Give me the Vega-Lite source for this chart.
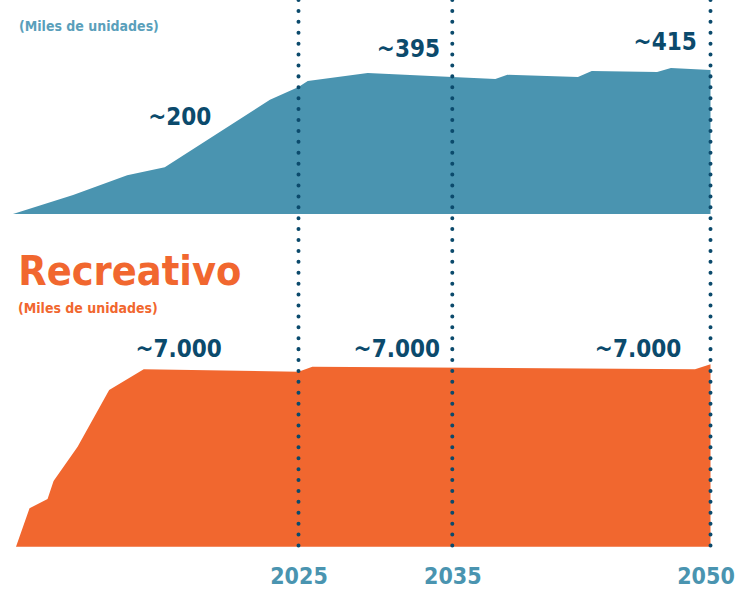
{
  "$schema": "https://vega.github.io/schema/vega-lite/v6.json",
  "width": 737,
  "height": 556,
  "autosize": "none",
  "padding": {"left": 0, "top": 0, "right": 0, "bottom": 33},
  "background": "white",
  "config": {"view": {"stroke": null}, "font": "DejaVu Sans Condensed, sans-serif"},
  "datasets": {
    "top": [
      {"year": 2006, "v": 0}, {"year": 2010, "v": 55}, {"year": 2013.6, "v": 112},
      {"year": 2016.1, "v": 135}, {"year": 2023.1, "v": 329}, {"year": 2025, "v": 366},
      {"year": 2025.6, "v": 383}, {"year": 2029.5, "v": 406}, {"year": 2035, "v": 395},
      {"year": 2037.5, "v": 389}, {"year": 2038.2, "v": 401}, {"year": 2042.3, "v": 395},
      {"year": 2043.1, "v": 412}, {"year": 2046.9, "v": 409}, {"year": 2047.7, "v": 421},
      {"year": 2050, "v": 415}
    ],
    "bottom": [
      {"year": 2006.2, "v": 0}, {"year": 2007.1, "v": 1512}, {"year": 2008.3, "v": 1879},
      {"year": 2008.7, "v": 2588}, {"year": 2010.3, "v": 3939}, {"year": 2012.4, "v": 6172},
      {"year": 2014.7, "v": 6987}, {"year": 2025, "v": 6893}, {"year": 2025.9, "v": 7090},
      {"year": 2049.1, "v": 6987}, {"year": 2050, "v": 7184}
    ],
    "topLabels": [
      {"year": 2019.2, "v": 200, "label": "~200"},
      {"year": 2034.2, "v": 395, "label": "~395"},
      {"year": 2049.2, "v": 415, "label": "~415"}
    ],
    "bottomLabels": [
      {"year": 2019.9, "v": 7000, "label": "~7.000"},
      {"year": 2034.2, "v": 7000, "label": "~7.000"},
      {"year": 2048.3, "v": 7000, "label": "~7.000"}
    ],
    "marks": [{"year": 2025}, {"year": 2035}, {"year": 2050}],
    "one": [{}]
  },
  "resolve": {"scale": {"y": "independent"}},
  "layer": [
    {
      "data": {"name": "top"},
      "mark": {"type": "area", "color": "#4a94b0", "interpolate": "linear"},
      "encoding": {
        "x": {"field": "year", "type": "quantitative", "scale": {"domain": [2006, 2025, 2035, 2050], "range": [13, 298.5, 452.3, 710.5], "nice": false, "zero": false}, "axis": {"values": [2025, 2035, 2050], "title": null, "labelFont": "DejaVu Sans Condensed, sans-serif", "labelFontSize": 23, "labelFontWeight": "bold", "labelColor": "#4a94b0", "domain": false, "ticks": false, "tickSize": 0, "grid": false, "labelPadding": 9, "labelFlush": false, "labelOverlap": false, "format": "d", "labelOffset": {"condition": {"test": "datum.value == 2050", "value": -5}, "value": 0}}},
        "y": {"field": "v", "type": "quantitative", "scale": {"domain": [-985.6, 616.7], "nice": false, "zero": false}, "axis": null},
        "y2": {"datum": 0}
      }
    },
    {
      "data": {"name": "bottom"},
      "mark": {"type": "area", "color": "#f1672f", "interpolate": "linear"},
      "encoding": {
        "x": {"field": "year", "type": "quantitative"},
        "y": {"field": "v", "type": "quantitative", "scale": {"domain": [-366, 21532], "nice": false, "zero": false}, "axis": null},
        "y2": {"datum": 0}
      }
    },
    {
      "data": {"name": "marks"},
      "mark": {"type": "rule", "color": "#0b4a6c", "strokeWidth": 4, "strokeCap": "round", "strokeDash": [0.01, 10.9]},
      "encoding": {
        "x": {"field": "year", "type": "quantitative"}
      }
    },
    {
      "data": {"name": "topLabels"},
      "mark": {"type": "text", "align": "right", "baseline": "alphabetic", "dy": -20, "fontSize": 24, "fontWeight": "bold", "color": "#0b4a6c", "font": "DejaVu Sans Condensed, sans-serif"},
      "encoding": {
        "x": {"field": "year", "type": "quantitative"},
        "y": {"field": "v", "type": "quantitative", "scale": {"domain": [-985.6, 616.7], "nice": false, "zero": false}, "axis": null},
        "text": {"field": "label"}
      }
    },
    {
      "data": {"name": "bottomLabels"},
      "mark": {"type": "text", "align": "right", "baseline": "alphabetic", "dy": -12.3, "fontSize": 24, "fontWeight": "bold", "color": "#0b4a6c", "font": "DejaVu Sans Condensed, sans-serif"},
      "encoding": {
        "x": {"field": "year", "type": "quantitative"},
        "y": {"field": "v", "type": "quantitative", "scale": {"domain": [-366, 21532], "nice": false, "zero": false}, "axis": null},
        "text": {"field": "label"}
      }
    },
    {
      "data": {"name": "one"},
      "mark": {"type": "text", "align": "left", "baseline": "alphabetic", "fontSize": 14, "fontWeight": "bold", "color": "#5a9fbb", "font": "DejaVu Sans Condensed, sans-serif"},
      "encoding": {
        "x": {"datum": 2006.4, "type": "quantitative"},
        "y": {"datum": 528, "type": "quantitative", "scale": {"domain": [-985.6, 616.7], "nice": false, "zero": false}, "axis": null},
        "text": {"value": "(Miles de unidades)"}
      }
    },
    {
      "data": {"name": "one"},
      "mark": {"type": "text", "align": "left", "baseline": "alphabetic", "fontSize": 41, "fontWeight": "bold", "color": "#f1672f", "font": "DejaVu Sans Condensed, sans-serif"},
      "encoding": {
        "x": {"datum": 2006.35, "type": "quantitative"},
        "y": {"datum": 10307, "type": "quantitative", "scale": {"domain": [-366, 21532], "nice": false, "zero": false}, "axis": null},
        "text": {"value": "Recreativo"}
      }
    },
    {
      "data": {"name": "one"},
      "mark": {"type": "text", "align": "left", "baseline": "alphabetic", "fontSize": 14, "fontWeight": "bold", "color": "#f1672f", "font": "DejaVu Sans Condensed, sans-serif"},
      "encoding": {
        "x": {"datum": 2006.33, "type": "quantitative"},
        "y": {"datum": 9216, "type": "quantitative", "scale": {"domain": [-366, 21532], "nice": false, "zero": false}, "axis": null},
        "text": {"value": "(Miles de unidades)"}
      }
    }
  ]
}
